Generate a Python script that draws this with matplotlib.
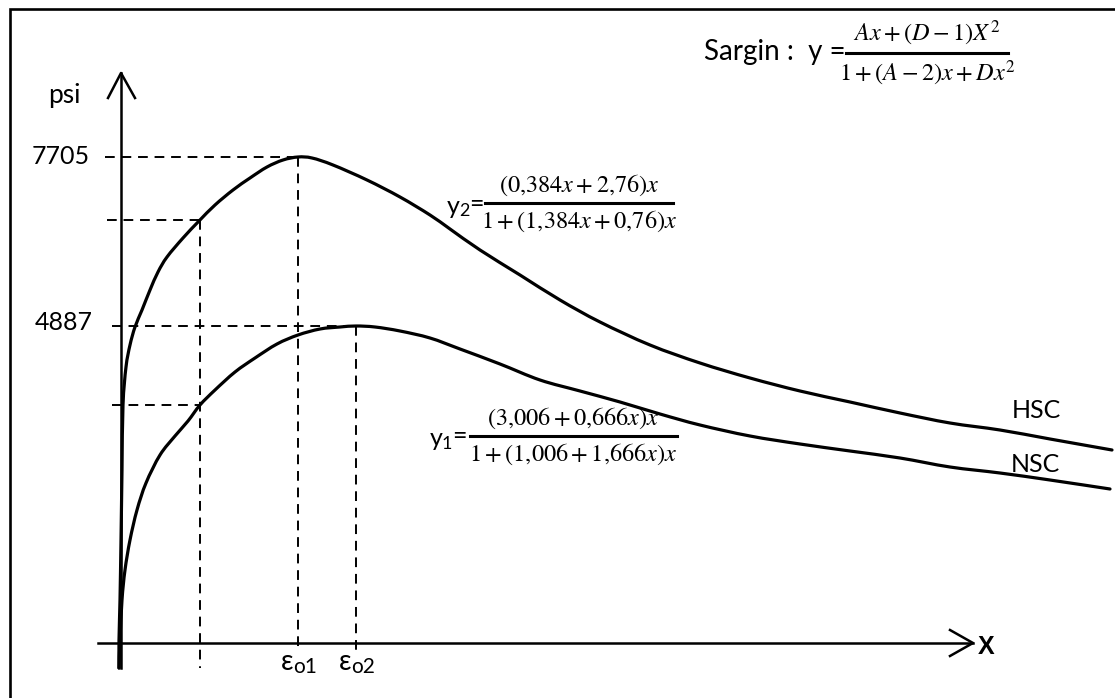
import numpy as np
import matplotlib.pyplot as plt
from matplotlib.path import Path
from matplotlib.patches import PathPatch

plt.rcParams['font.family'] = ['Lato', 'DejaVu Sans']
plt.rcParams['mathtext.fontset'] = 'stix'

# Curve points (origin at the axes crossing, x right, y up)
hsc_x = [-2, -2, -1, 0, 1, 2, 5, 9, 14, 21, 29, 37, 46, 62, 78, 94, 112, 129, 146, 162,
         177, 191, 212, 246, 279, 309, 329, 359, 399, 439, 479, 529, 579, 629, 679, 729,
         779, 829, 879, 929, 991]
hsc_y = [-25, 3, 43, 103, 173, 238, 276, 298, 316, 333, 353, 371, 386, 405, 422, 438, 453,
         465, 476, 483, 486, 485, 478, 463, 446, 428, 414, 393, 368, 343, 321, 298, 280,
         265, 252, 241, 230, 220, 213, 204, 193]
nsc_x = [-2, -1, 1, 4, 9, 16, 25, 39, 54, 67, 79, 94, 114, 134, 156, 177, 199, 219, 235,
         254, 279, 309, 339, 379, 419, 459, 499, 539, 579, 629, 679, 729, 779, 829, 879,
         929, 989]
nsc_y = [-25, 3, 43, 73, 103, 133, 160, 188, 207, 222, 238, 253, 271, 285, 299, 308, 314,
         316, 317, 316, 312, 305, 294, 279, 263, 252, 241, 229, 218, 207, 199, 192, 185,
         176, 170, 163, 154]

peak_labels = ['7705', '4887']
strain_labels = ['o1', 'o2']
x_guide = 79  # dashed vertical left of the peaks


def P(px, py):
    # layout helper: picture pixels -> plot frame
    return px - 121, 643 - py


def smooth(xs, ys):
    # Catmull-Rom through the read points, drawn as cubic Bezier segments
    pts = np.column_stack([xs, ys]).astype(float)
    ext = np.vstack([pts[0], pts, pts[-1]])
    verts, codes = [pts[0]], [Path.MOVETO]
    for i in range(1, len(ext) - 2):
        p0, p1, p2, p3 = ext[i - 1], ext[i], ext[i + 1], ext[i + 2]
        verts += [p1 + (p2 - p0) / 6, p2 - (p3 - p1) / 6, p2]
        codes += [Path.CURVE4] * 3
    return Path(verts, codes)


fig = plt.figure(figsize=(11.15, 6.98), dpi=100)
ax = fig.add_axes([0, 0, 1, 1])
ax.set_xlim(-121, 994)
ax.set_ylim(-55, 643)
ax.axis('off')

# frame
bx, by = P(10, 9)
ax.plot([bx, bx, 1000], [-60, by, by], color='black', lw=1.9, solid_joinstyle='miter')

# axes with open arrow heads
ax.plot([0, 0], [-25, 570], color='black', lw=1.8)
ax.plot([-13, 0, 14], [545, 570, 545], color='black', lw=1.8)
ax.plot([-23, 852], [0, 0], color='black', lw=1.8)
ax.plot([829, 852, 829], [13, 0, -13], color='black', lw=1.8)

# curves
for xs, ys in [(hsc_x, hsc_y), (nsc_x, nsc_y)]:
    ax.add_patch(PathPatch(smooth(xs, ys), fill=False, edgecolor='black', lw=2.3,
                           capstyle='round'))

# dashed guides
dash = dict(color='black', lw=1.4, linestyle=(0, (5, 3.5)))
ih, inn = int(np.argmax(hsc_y)), int(np.argmax(nsc_y))
hx, hy = hsc_x[ih], hsc_y[ih]
nx, ny = nsc_x[inn], nsc_y[inn]
h_g = np.interp(x_guide, hsc_x, hsc_y)
n_g = np.interp(x_guide, nsc_x, nsc_y)
ax.plot([-16, hx], [hy, hy], **dash)
ax.plot([-14, x_guide], [h_g, h_g], **dash)
ax.plot([-9, nx], [ny, ny], **dash)
ax.plot([-9, x_guide], [n_g, n_g], **dash)
ax.plot([x_guide, x_guide], [h_g, -25], **dash)
ax.plot([hx, hx], [hy, -7], **dash)
ax.plot([nx, nx], [ny, -7], **dash)

# labels
fs = 18
ax.text(*P(64, 95), 'psi', fontsize=19, ha='center', va='center')
ax.text(*P(61, 156), peak_labels[0], fontsize=fs, ha='center', va='center')
ax.text(*P(64, 323), peak_labels[1], fontsize=fs, ha='center', va='center')
ax.text(*P(1036, 411), 'HSC', fontsize=fs, ha='center', va='center')
ax.text(*P(1035, 465), 'NSC', fontsize=fs, ha='center', va='center')
ax.text(*P(986, 647), 'X', fontsize=18, fontweight='bold', family='Liberation Sans',
        ha='center', va='center')

for xs, sub in zip([hx, nx], strain_labels):
    ax.text(xs - 5, -19, 'ε', fontsize=20, ha='right', va='center')
    ax.text(xs - 5, -24, sub, fontsize=15, ha='left', va='center')


def frac(x0, x1, ybar, num, den, size=17.5):
    xa, ya = P(x0, ybar)
    xb, _ = P(x1, ybar)
    ax.plot([xa, xb], [ya, ya], color='black', lw=2.2)
    xc = (xa + xb) / 2
    ax.text(xc, ya + 5, num, fontsize=size, ha='center', va='bottom')
    ax.text(xc, ya - 6, den, fontsize=size, ha='center', va='top')


def ylabel(px, py, sub):
    ax.text(*P(px, py + 2), 'y', fontsize=18, ha='left', va='center')
    ax.text(*P(px + 12, py + 7), sub, fontsize=13, ha='left', va='center')
    ax.text(*P(px + 22, py), '=', fontsize=18, ha='left', va='center')


# Sargin
ax.text(*P(846, 52), 'Sargin :  y =', fontsize=20, ha='right', va='center')
frac(846, 1008, 53, r'$Ax+(D-1)X^2$', r'$1+(A-2)x+Dx^2$')

# y2
ylabel(447, 204, '2')
frac(485, 673, 203, r'$(0{,}384x+2{,}76)x$', r'$1+(1{,}384x+0{,}76)x$')

# y1
ylabel(430, 437, '1')
frac(470, 677, 436, r'$(3{,}006+0{,}666x)x$', r'$1+(1{,}006+1{,}666x)x$')

fig.savefig('out.png', dpi=100)
